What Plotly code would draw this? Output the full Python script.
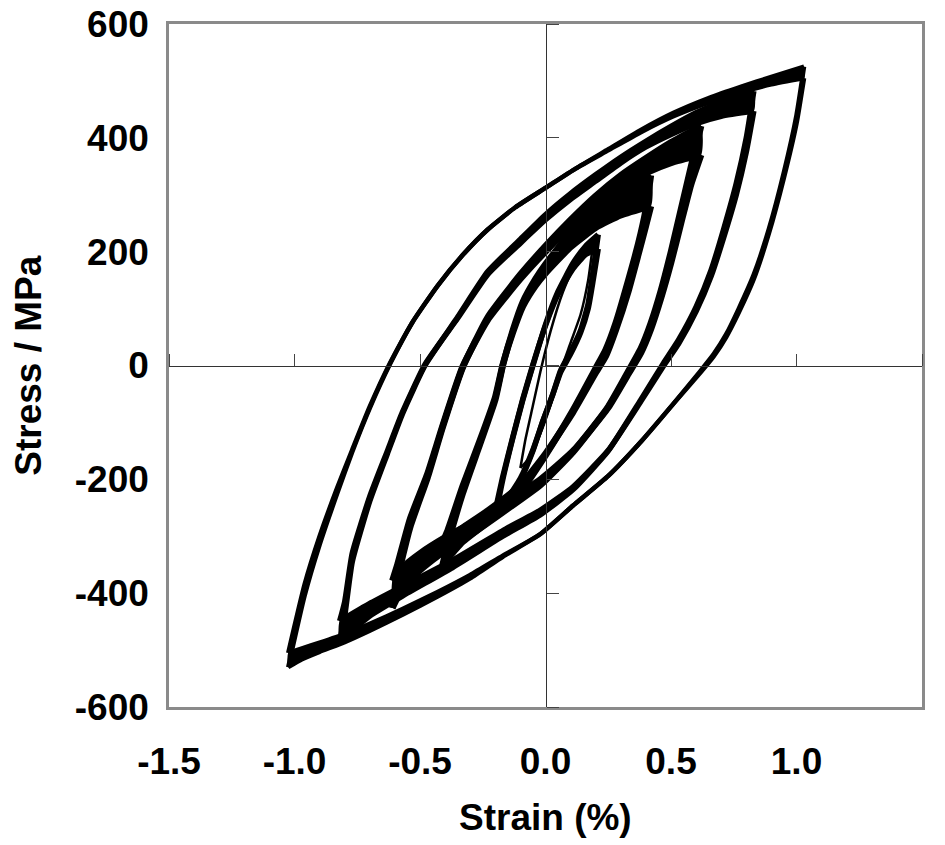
import plotly.graph_objects as go

# ---------------- data ----------------
X_TICKS = [-1.5, -1.0, -0.5, 0.0, 0.5, 1.0, 1.5]
Y_TICKS = [-600, -400, -200, 0, 200, 400, 600]
X_TITLE = "Strain (%)"
Y_TITLE = "Stress / MPa"

# Loop A (+-1.0 %)
A_UP_EPS = [-1.025, -0.96, -0.90, -0.83, -0.77, -0.70, -0.62, -0.53, -0.43, -0.33, -0.23, -0.12, 0.00, 0.12, 0.25, 0.38, 0.51, 0.65, 0.78, 0.90, 1.03]
A_UP_FIRST = [-530, -405, -315, -225, -152, -75, 2, 76, 140, 194, 239, 278, 312, 346, 380, 414, 444, 470, 490, 507, 525]
A_UP_LAST = [-505, -385, -300, -215, -148, -72, 4, 76, 140, 194, 239, 278, 312, 346, 378, 410, 438, 462, 480, 494, 505]
A_DN_EPS = [1.03, 1.00, 0.95, 0.89, 0.83, 0.77, 0.72, 0.67, 0.62, 0.51, 0.38, 0.25, 0.11, -0.02, -0.17, -0.30, -0.43, -0.57, -0.70, -0.80, -0.90, -0.97, -1.025]
A_DN_FIRST = [525, 440, 340, 240, 160, 100, 55, 20, -8, -67, -134, -194, -246, -296, -336, -374, -406, -438, -466, -486, -503, -516, -530]
A_DN_LAST = [505, 425, 330, 232, 152, 93, 50, 16, -11, -67, -134, -194, -246, -296, -334, -368, -398, -428, -454, -472, -487, -497, -505]

# Loop B (+-0.8 %)
B_UP_EPS = [-0.82, -0.80, -0.77, -0.70, -0.63, -0.57, -0.48, -0.35, -0.23, -0.10, 0.00, 0.10, 0.20, 0.30, 0.40, 0.50, 0.60, 0.70, 0.83]
B_UP_FIRST = [-484, -440, -345, -238, -155, -85, 0, 85, 165, 222, 265, 302, 335, 366, 394, 420, 444, 463, 482]
B_UP_LAST = [-449, -415, -330, -230, -150, -82, 2, 83, 160, 215, 256, 292, 324, 356, 384, 406, 425, 438, 447]
B_DN_EPS = [0.83, 0.80, 0.76, 0.71, 0.66, 0.60, 0.53, 0.47, 0.38, 0.25, 0.11, -0.02, -0.17, -0.37, -0.57, -0.70, -0.82]
B_DN_FIRST = [482, 400, 320, 240, 168, 103, 45, 4, -60, -150, -218, -262, -300, -355, -405, -440, -484]
B_DN_LAST = [447, 375, 300, 225, 157, 95, 38, -1, -63, -149, -213, -254, -290, -342, -388, -418, -449]

# Loop C (+-0.6 %)
C_UP_EPS = [-0.61, -0.59, -0.54, -0.47, -0.41, -0.33, -0.23, -0.10, 0.00, 0.10, 0.20, 0.30, 0.40, 0.50, 0.62]
C_UP_FIRST = [-426, -375, -285, -197, -109, -4, 85, 160, 210, 256, 298, 334, 364, 392, 421]
C_UP_LAST = [-378, -350, -270, -190, -106, -2, 80, 152, 200, 244, 282, 314, 338, 356, 370]
C_DN_EPS = [0.62, 0.58, 0.54, 0.50, 0.46, 0.42, 0.38, 0.33, 0.25, 0.11, -0.02, -0.17, -0.30, -0.40, -0.50, -0.57, -0.61]
C_DN_FIRST = [421, 350, 275, 200, 132, 75, 30, -10, -72, -152, -210, -258, -298, -325, -360, -392, -426]
C_DN_LAST = [370, 318, 250, 180, 118, 64, 22, -15, -74, -150, -200, -243, -278, -302, -330, -355, -378]

# Loop D (+-0.4 %)
D_UP_EPS = [-0.41, -0.39, -0.33, -0.26, -0.20, -0.17, -0.13, -0.09, -0.04, 0.00, 0.10, 0.20, 0.30, 0.42]
D_UP_FIRST = [-350, -315, -225, -137, -60, 0, 62, 112, 152, 178, 234, 274, 305, 334]
D_UP_LAST = [-310, -290, -212, -130, -55, 2, 58, 104, 140, 162, 208, 242, 264, 280]
D_DN_EPS = [0.42, 0.40, 0.37, 0.33, 0.28, 0.24, 0.20, 0.11, 0.00, -0.10, -0.23, -0.33, -0.41]
D_DN_FIRST = [334, 275, 215, 150, 75, 28, -5, -78, -158, -222, -275, -310, -350]
D_DN_LAST = [280, 245, 195, 130, 62, 16, -13, -82, -155, -210, -255, -285, -310]

# Loop E (+-0.2 %)
E_UP_EPS = [-0.20, -0.17, -0.13, -0.09, -0.05, 0.00, 0.05, 0.11, 0.16, 0.21]
E_UP_FIRST = [-266, -200, -127, -60, 0, 72, 130, 180, 210, 230]
E_UP_LAST = [-255, -195, -125, -58, 2, 70, 125, 170, 195, 205]
E_DN_EPS = [0.21, 0.19, 0.17, 0.14, 0.10, 0.06, 0.03, -0.01, -0.05, -0.10, -0.15, -0.20]
E_DN_FIRST = [230, 167, 109, 62, 24, -9, -49, -97, -150, -202, -240, -266]
E_DN_LAST = [205, 150, 100, 58, 20, -12, -50, -97, -148, -198, -232, -255]

# Inner thin loop F
F_UP_EPS = [-0.10, -0.08, -0.05, -0.02, 0.02, 0.07, 0.12, 0.19]
F_UP_SIG = [-180, -130, -70, -10, 60, 130, 180, 215]
F_DN_EPS = [0.19, 0.17, 0.14, 0.10, 0.06, 0.02, -0.03, -0.07, -0.10]
F_DN_SIG = [215, 150, 90, 40, -10, -70, -130, -165, -180]

LOOPS = [
    ((A_UP_EPS, A_UP_FIRST, A_UP_LAST), (A_DN_EPS, A_DN_FIRST, A_DN_LAST), 4.5),
    ((B_UP_EPS, B_UP_FIRST, B_UP_LAST), (B_DN_EPS, B_DN_FIRST, B_DN_LAST), 5.5),
    ((C_UP_EPS, C_UP_FIRST, C_UP_LAST), (C_DN_EPS, C_DN_FIRST, C_DN_LAST), 6.5),
    ((D_UP_EPS, D_UP_FIRST, D_UP_LAST), (D_DN_EPS, D_DN_FIRST, D_DN_LAST), 6.5),
    ((E_UP_EPS, E_UP_FIRST, E_UP_LAST), (E_DN_EPS, E_DN_FIRST, E_DN_LAST), 5.5),
]

X_RANGE = [-1.5, 1.5]
Y_RANGE = [-600, 600]

# ---------------- figure ----------------
fig = go.Figure()

# dummy trace to create the overlaid axes drawn through the origin
fig.add_trace(go.Scatter(x=[], y=[], xaxis="x2", yaxis="y2", showlegend=False, hoverinfo="skip"))

LINE_SHAPE = dict(shape="spline", smoothing=0.5)

for up, dn, lw in LOOPS:
    for eps, first, last in (up, dn):
        fig.add_trace(go.Scatter(
            x=list(eps) + list(eps)[::-1], y=list(first) + list(last)[::-1],
            mode="lines", fill="toself", fillcolor="black",
            line=dict(width=0, color="black", **LINE_SHAPE), showlegend=False, hoverinfo="skip"))
        for sig in (first, last):
            fig.add_trace(go.Scatter(x=eps, y=sig, mode="lines",
                                     line=dict(color="black", width=lw, **LINE_SHAPE),
                                     showlegend=False, hoverinfo="skip"))

for eps, sig in ((F_UP_EPS, F_UP_SIG), (F_DN_EPS, F_DN_SIG)):
    fig.add_trace(go.Scatter(x=eps, y=sig, mode="lines",
                             line=dict(color="black", width=2.5, **LINE_SHAPE),
                             showlegend=False, hoverinfo="skip"))

FONT = "Liberation Sans, Arial, sans-serif"
xpos = (0 - Y_RANGE[0]) / (Y_RANGE[1] - Y_RANGE[0])
ypos = (0 - X_RANGE[0]) / (X_RANGE[1] - X_RANGE[0])

fig.update_layout(
    template="none",
    width=945, height=845,
    margin=dict(l=169, r=23, t=24, b=138, autoexpand=False),
    paper_bgcolor="white", plot_bgcolor="white",
    font=dict(family=FONT, color="black"),
    xaxis=dict(range=X_RANGE, tickvals=X_TICKS, ticktext=[f"{v:.1f}" for v in X_TICKS],
               showline=True, mirror=True, linecolor="#8a8a8a", linewidth=2.5,
               ticks="", showgrid=False, zeroline=False, automargin=False,
               tickfont=dict(size=37, weight="bold", family=FONT), ticklabelstandoff=20),
    yaxis=dict(range=Y_RANGE, tickvals=Y_TICKS, ticktext=[str(v) for v in Y_TICKS],
               showline=True, mirror=True, linecolor="#8a8a8a", linewidth=2.5,
               ticks="", showgrid=False, zeroline=False, automargin=False,
               tickfont=dict(size=37, weight="bold", family=FONT), ticklabelstandoff=10),
    xaxis2=dict(range=X_RANGE, overlaying="x", anchor="free", position=xpos, side="top",
                tickvals=X_TICKS, ticks="outside", ticklen=12, tickwidth=1, tickcolor="#444",
                showline=True, linecolor="#333", linewidth=1, showticklabels=False,
                showgrid=False, zeroline=False),
    yaxis2=dict(range=Y_RANGE, overlaying="y", anchor="free", position=ypos, side="right",
                tickvals=Y_TICKS, ticks="outside", ticklen=12, tickwidth=1, tickcolor="#444",
                showline=True, linecolor="#333", linewidth=1, showticklabels=False,
                showgrid=False, zeroline=False),
    showlegend=False,
    annotations=[
        dict(text=X_TITLE, xref="paper", yref="paper", x=0.5, y=-0.1625,
             xanchor="center", yanchor="middle", showarrow=False,
             font=dict(size=37, weight="bold", family=FONT)),
        dict(text=Y_TITLE, xref="paper", yref="paper", x=-0.187, y=0.5, textangle=-90,
             xanchor="center", yanchor="middle", showarrow=False,
             font=dict(size=37, weight="bold", family=FONT)),
    ],
)

fig.write_html("out.html")
